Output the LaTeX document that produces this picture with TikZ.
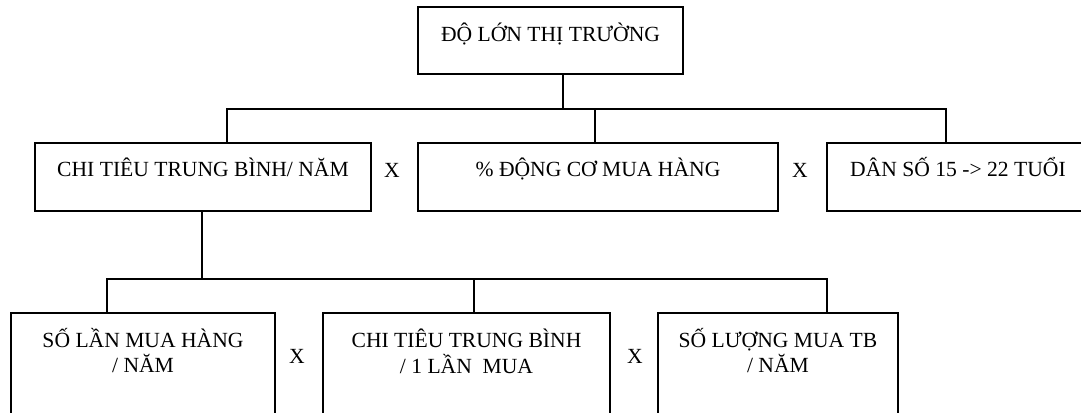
\documentclass[tikz,border=0pt]{standalone}
\usepackage{fontspec}
\setmainfont{Liberation Serif}
\tikzset{
  cell/.style={draw, line width=1.1pt, inner sep=0pt},
  mul/.style={inner sep=0pt},
}
\begin{document}
\begin{tikzpicture}[x=0.75pt,y=-0.75pt,line width=1.1pt,font=\fontsize{16.2}{18.75}\selectfont]
\path[use as bounding box, clip] (0,0) rectangle (1081,413);
%Top
\node[cell, minimum width=198.75pt, text height=26.25pt, text depth=24pt] (top) at (550.5,40.5) {ĐỘ LỚN THỊ TRƯỜNG};
%Middle row
\node[cell, minimum width=252pt, text height=25.5pt, text depth=25.5pt] (m1) at (203,177) {CHI TIÊU TRUNG BÌNH/ NĂM};
\node[cell, minimum width=270pt, text height=25.5pt, text depth=25.5pt] (m2) at (598,177) {\% ĐỘNG CƠ MUA HÀNG};
\node[cell, minimum width=196.5pt, text height=25.5pt, text depth=25.5pt] (m3) at (958,177) {DÂN SỐ 15 -> 22 TUỔI};
\node[mul] (x1) at (392,170) {X};
\node[mul] (x2) at (800,170) {X};
%Bottom row
\node[cell, minimum width=198pt, text height=25.5pt, text depth=55.5pt] (l1) at (143,367) {\begin{tabular}[t]{@{}c@{}}SỐ LẦN MUA HÀNG\\ / NĂM\end{tabular}};
\node[cell, minimum width=215.25pt, text height=25.5pt, text depth=55.5pt] (l2) at (466.5,367) {\begin{tabular}[t]{@{}c@{}}CHI TIÊU TRUNG BÌNH\\ / 1 LẦN\ \ MUA\end{tabular}};
\node[cell, minimum width=180pt, text height=25.5pt, text depth=55.5pt] (l3) at (778,367) {\begin{tabular}[t]{@{}c@{}}SỐ LƯỢNG MUA TB\\ / NĂM\end{tabular}};
\node[mul] (x3) at (297,356) {X};
\node[mul] (x4) at (635,356) {X};
%Lines
\coordinate (jt) at (563,109);
\coordinate (b1) at (227,109);
\coordinate (b2) at (595,109);
\coordinate (b3) at (946,109);
\draw (top.south -| jt) -- (jt);
\draw (m1.north -| b1) -- (b1) -- (b3) -- (m3.north -| b3);
\draw (b2) -- (m2.north -| b2);
\coordinate (c0) at (202,279);
\coordinate (c1) at (107,279);
\coordinate (c2) at (474,279);
\coordinate (c3) at (827,279);
\draw (m1.south -| c0) -- (c0);
\draw (l1.north -| c1) -- (c1) -- (c3) -- (l3.north -| c3);
\draw (c2) -- (l2.north -| c2);
\end{tikzpicture}
\end{document}
